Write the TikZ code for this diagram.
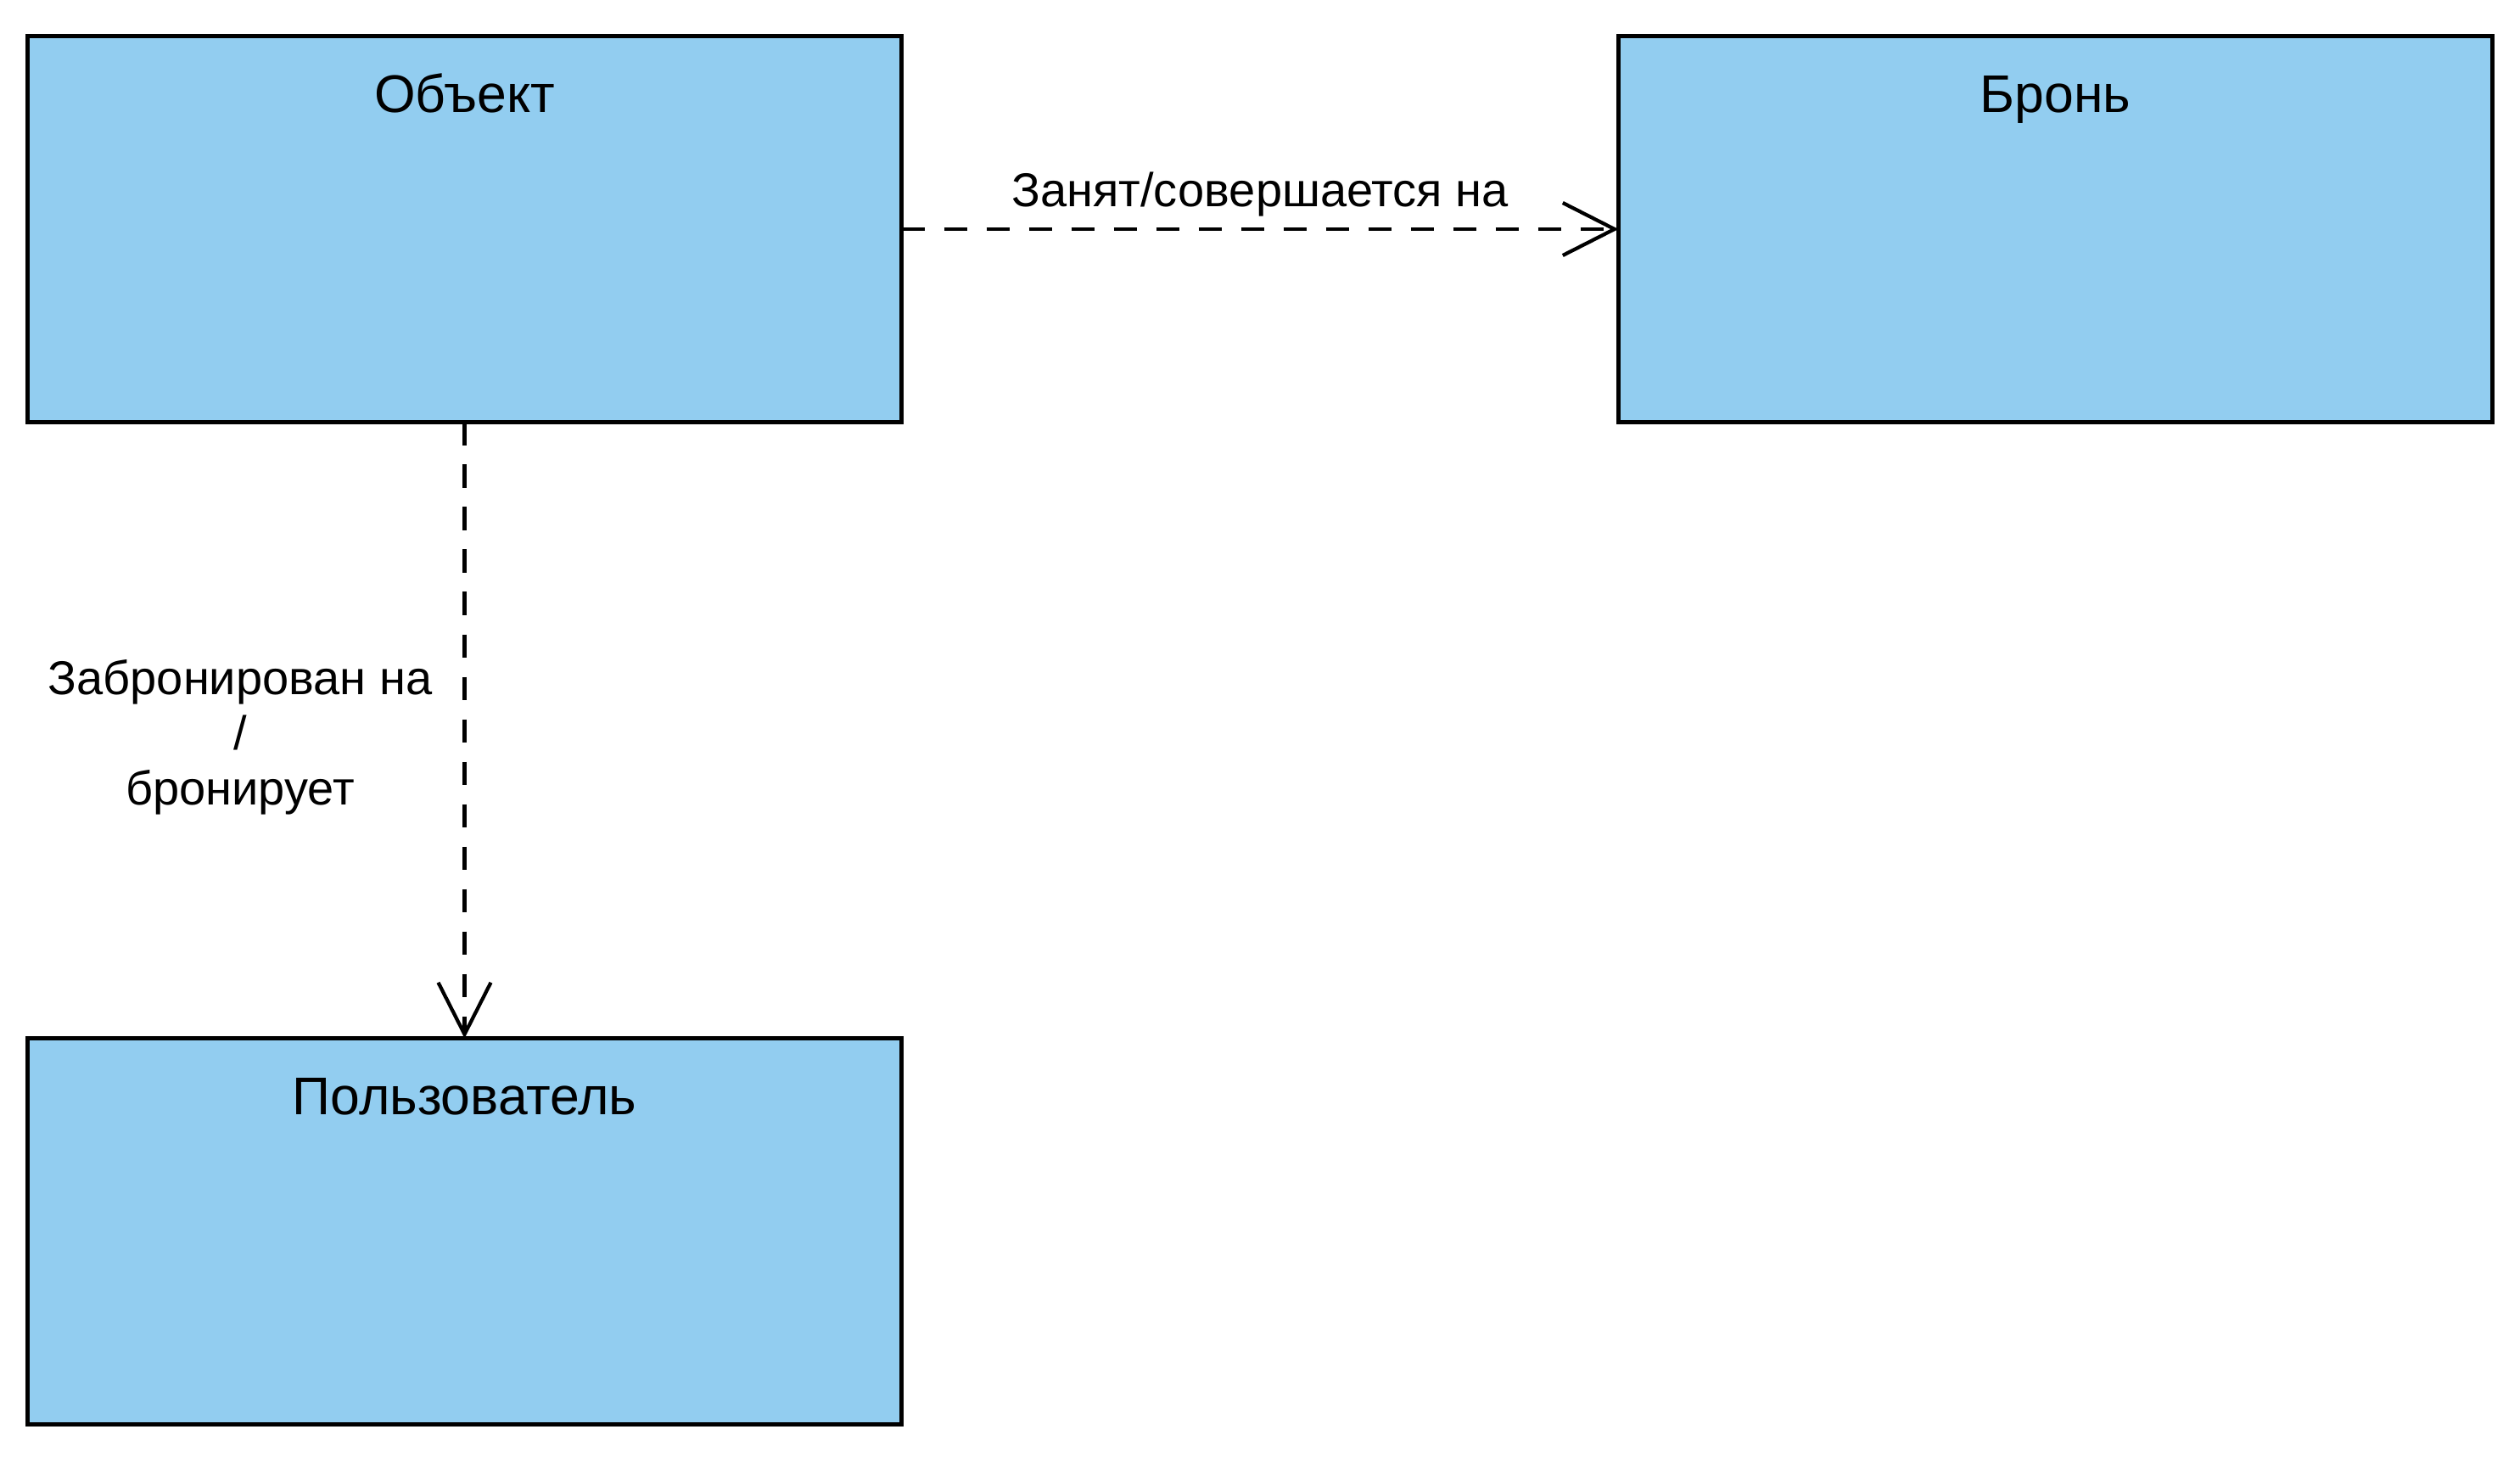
\documentclass[tikz,border=0pt]{standalone}
\usepackage{fontspec}
\setmainfont{Liberation Sans}
\usetikzlibrary{arrows.meta,positioning}
\definecolor{entityblue}{RGB}{146,205,240}

\begin{document}
\begin{tikzpicture}[-{Straight Barb[length=12.2pt,width=12.4pt]}, line width=0.85pt, node distance=169pt]
		\tikzstyle{entity}=[rectangle,draw=black,fill=entityblue,minimum width=206pt,minimum height=91pt,inner sep=0pt,outer sep=0pt]
		\tikzstyle{entitytitle}=[font=\fontsize{12.5}{14}\selectfont,anchor=base]
		\tikzstyle{rel}=[dash pattern=on 5.5pt off 4.5pt]
		\tikzstyle{rellabel}=[font=\fontsize{11.2}{13}\selectfont,inner sep=0pt,align=center]
		\useasboundingbox (0,0) rectangle (594pt,-344.8pt);
		\node[entity, anchor=north west] (O) at (6.5pt,-8.5pt) {};
		\node[entity]    (B)[right = of O]   {};
		\node[entity]    (U)[below = 145.2pt of O]   {};
		\node[entitytitle] (Ot) at ([yshift=-18pt]O.north) {Объект};
		\node[entitytitle] (Bt) at ([yshift=-18pt]B.north) {Бронь};
		\node[entitytitle] (Ut) at ([yshift=-18pt]U.north) {Пользователь};
		\path[rel]
		(O) edge node[rellabel,anchor=base,yshift=5.2pt]{Занят/совершается на} (B)
		(O) edge node[rellabel,left=7.2pt,yshift=-1.6pt]{Забронирован на\\/\\бронирует} (U);
	\end{tikzpicture}
\end{document}
